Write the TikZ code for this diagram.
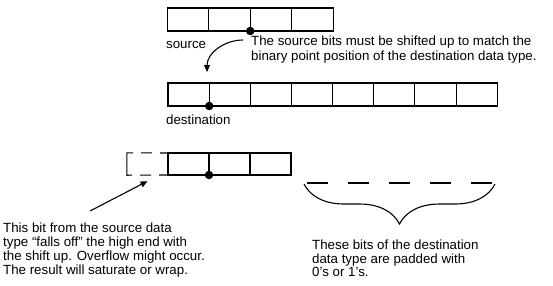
\documentclass[tikz,border=0pt]{standalone}
\usepackage{fontspec}
\setmainfont{Liberation Sans}
\usepackage{tikz}
\usetikzlibrary{arrows.meta,positioning,decorations.pathreplacing}
\definecolor{Ink}{HTML}{000000}
\tikzset{
  cell/.style={draw=Ink, line width=1.1pt, minimum width=41.3pt, minimum height=23pt, inner sep=0pt, outer sep=0pt},
  bitdot/.style={circle, fill=Ink, inner sep=0pt, minimum size=8.5pt},
  note/.style={align=left, anchor=west, inner sep=0pt, text=Ink, font=\fontsize{13.3}{15}\selectfont},
  arr/.style={-{Triangle[length=7pt,width=6pt]}, line width=1.1pt, draw=Ink}
}
\begin{document}
\begin{tikzpicture}[x=1pt,y=-1pt]
\useasboundingbox (0,0) rectangle (553,285);
% source word
\foreach \i in {0,...,3}
  \node[cell, minimum width=41.5pt] (s\i) at ({188+41.5*\i},19.5) {};
\node[bitdot] (sdot) at (s2.south west) {};
\node[note] (srclbl) at (166,45) {source};
\node[note] (shiftnote) at (251,49.5) {The source bits must be shifted up to match the\\binary point position of the destination data type.};
% destination word
\foreach \i in {0,...,7}
  \node[cell, minimum width=41.15pt] (d\i) at ({188.6+41.15*\i},94.5) {};
\node[bitdot] (ddot) at (d1.south west) {};
\node[note] (dstlbl) at (166,120) {destination};
\coordinate (shiftstart) at (243,40);
\draw[arr] (shiftstart) to[out=180,in=90] (207,72);
% shifted source
\foreach \i in {0,...,2}
  \node[cell, minimum width=41pt, minimum height=22pt] (b\i) at ({188.5+41*\i},164) {};
\node[bitdot] (bdot) at (b1.south west) {};
\node[minimum width=41pt, minimum height=22pt, inner sep=0pt] (lost) at (147.5,164) {};
\draw[Ink, line width=1.1pt, dash pattern=on 8pt off 8pt on 11pt off 8pt on 34pt off 8pt on 11pt off 8pt on 8pt]
  (b0.north west) -- (lost.north west) -- (lost.south west) -- (b0.south west);
% padded bits
\coordinate (padL) at (304,184);
\coordinate (padR) at (495,184);
\draw[Ink, line width=1.1pt, dash pattern=on 21pt off 20pt] (307,183) -- (494,183);
\draw[Ink, line width=1.1pt, decorate, decoration={brace, mirror, amplitude=40pt}] (padL) -- (padR);
% notes below
\node[note, font=\fontsize{13.3}{14}\selectfont] (ovfnote) at (3,250) {This bit from the source data\\type ``falls off'' the high end with\\the shift up. Overflow might occur.\\The result will saturate or wrap.};
\node[note, font=\fontsize{13.3}{13.6}\selectfont] (padnote) at (312,258.5) {These bits of the destination\\data type are padded with\\0's or 1's.};
\coordinate (ovfstart) at (90,211);
\draw[arr] (ovfstart) -- ([yshift=-6pt]lost.south);
\end{tikzpicture}
\end{document}
